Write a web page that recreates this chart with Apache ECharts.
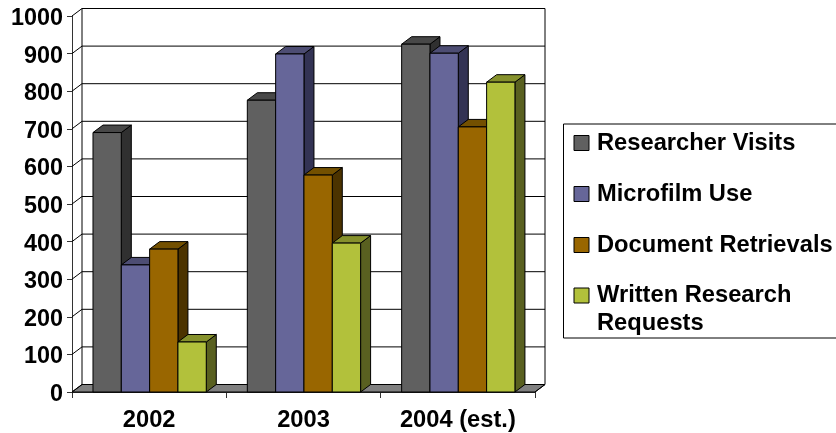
<!DOCTYPE html>
<html>
<head>
<meta charset="utf-8">
<style>html,body{margin:0;padding:0;background:#fff}#c{width:836px;height:433px}</style>
<script src="https://cdn.jsdelivr.net/npm/echarts@6/dist/echarts.min.js"></script>
</head>
<body>
<div id="c"></div>
<script>
const categories = ['2002', '2003', '2004 (est.)'];
const researcherVisits = [690, 776, 925];
const microfilmUse = [338, 899, 901];
const documentRetrievals = [380, 577, 705];
const writtenRequests = [133, 396, 824];
const gridValues = [0,100,200,300,400,500,600,700,800,900,1000];
const seriesNames = ['Researcher Visits','Microfilm Use','Document Retrievals','Written Research Requests'];
const seriesValues = [researcherVisits, microfilmUse, documentRetrievals, writtenRequests];
const frontColors = ['#606060','#666699','#996600','#B2C13B'];
const topColors   = ['#484848','#4D4D73','#735000','#86912C'];
const sideColors  = ['#303030','#333354','#4C3300','#596020'];

const DX = 10, DY = 7.5;
const BAR_RATIO = 0.1835, INSET_RATIO = 0.136;
const FONT = '"Liberation Sans", Arial, sans-serif';
const FS = 23.7, FSY = 23.4;

function poly(points, fill, stroke, lw) {
  return {type:'polygon', shape:{points}, style:{fill, stroke, lineWidth:lw===undefined?1:lw}};
}
function line(points, stroke, lw) {
  return {type:'polyline', shape:{points}, style:{fill:'none', stroke, lineWidth:lw||1}};
}

function renderWall(params, api) {
  const v = api.value(0);
  const left = api.coord([0, v])[0] - api.size([1,0])[0]/2;
  const right = api.coord([2, v])[0] + api.size([1,0])[0]/2;
  const y = api.coord([0, v])[1];
  const children = [];
  if (v === gridValues[0]) {
    children.push(poly([[left,y],[left+DX,y-DY],[right+DX,y-DY],[right,y]], '#808080', '#000'));
  }
  children.push(line([[left,y],[left+DX,y-DY],[right+DX,y-DY]], '#000', 1));
  if (v === gridValues[gridValues.length-1]) {
    const y0 = api.coord([0, gridValues[0]])[1];
    children.push(line([[left+DX,y0-DY],[left+DX,y-DY]], '#000', 1));
    children.push(line([[right+DX,y0-DY],[right+DX,y-DY]], '#000', 1));
    children.push(line([[right,y0],[right+DX,y0-DY]], '#000', 1));
  }
  return {type:'group', children};
}

function makeBarRenderer(s) {
  return function(params, api) {
    const p = api.coord([api.value(0), api.value(1)]);
    const p0 = api.coord([api.value(0), 0]);
    const band = api.size([1,0])[0];
    const w = band * BAR_RATIO;
    const x = p[0] - band/2 + band*INSET_RATIO + s*w;
    const yT = p[1], yB = p0[1];
    return {type:'group', children:[
      poly([[x+w,yT],[x+w+DX,yT-DY],[x+w+DX,yB-DY],[x+w,yB]], sideColors[s], '#000'),
      poly([[x,yT],[x+DX,yT-DY],[x+w+DX,yT-DY],[x+w,yT]], topColors[s], '#000'),
      poly([[x,yT],[x+w,yT],[x+w,yB],[x,yB]], frontColors[s], '#000')
    ]};
  };
}

const legendText = {color:'#000', fontFamily:FONT, fontWeight:'bold', fontSize:FS};
const icon = i => ({color:frontColors[i], borderColor:'#000', borderWidth:1});

const option = {
  animation:false,
  backgroundColor:'#fff',
  grid:{left:72, top:16, width:463, height:376, containLabel:false},
  xAxis:{type:'category', data:categories, boundaryGap:true,
    axisLine:{show:true, lineStyle:{color:'#333', width:1}},
    axisTick:{show:true, length:6, alignWithLabel:false, lineStyle:{color:'#333'}},
    axisLabel:{color:'#000', fontFamily:FONT, fontWeight:'bold', fontSize:FS, margin:16},
    splitLine:{show:false}},
  yAxis:{type:'value', min:0, max:1000, interval:100,
    axisLine:{show:true, lineStyle:{color:'#333', width:1}},
    axisTick:{show:true, length:5, lineStyle:{color:'#333'}},
    axisLabel:{color:'#000', fontFamily:FONT, fontWeight:'bold', fontSize:FSY, margin:9,
      formatter:v=>'{n|'+v+'}',
      rich:{n:{color:'#000', fontFamily:FONT, fontWeight:'bold', fontSize:FSY, padding:[5,0,0,0]}}},
    splitLine:{show:false}},
  legend:[
    {orient:'vertical', left:563.5, top:124, selectedMode:false,
     padding:[7,20,81,10], itemWidth:15, itemHeight:15, itemGap:27,
     borderColor:'#000', borderWidth:1, backgroundColor:'#fff',
     textStyle:Object.assign({lineHeight:15, padding:[0,0,0,3]}, legendText),
     data:[0,1,2].map(i=>({name:seriesNames[i], icon:'rect', itemStyle:icon(i)}))},
    {orient:'vertical', left:573.5, top:253.5, selectedMode:false, padding:0,
     itemWidth:15, itemHeight:15,
     formatter:()=>'\nWritten Research\nRequests',
     textStyle:Object.assign({lineHeight:28, padding:[0,0,0,3]}, legendText),
     data:[{name:seriesNames[3], icon:'rect', itemStyle:icon(3)}]}
  ],
  series:[
    {type:'custom', name:'walls', silent:true, z:1, renderItem:renderWall,
     data:gridValues.map(v=>[v]), encode:{y:0}},
  ].concat(seriesNames.map((name,s)=>({
    type:'custom', name, z:2+s, renderItem:makeBarRenderer(s),
    itemStyle:{color:frontColors[s]},
    data:seriesValues[s].map((v,i)=>[i,v]), encode:{x:0,y:1}
  })))
};
echarts.init(document.getElementById('c'), null, {renderer:'canvas'}).setOption(option);
</script>
</body>
</html>
